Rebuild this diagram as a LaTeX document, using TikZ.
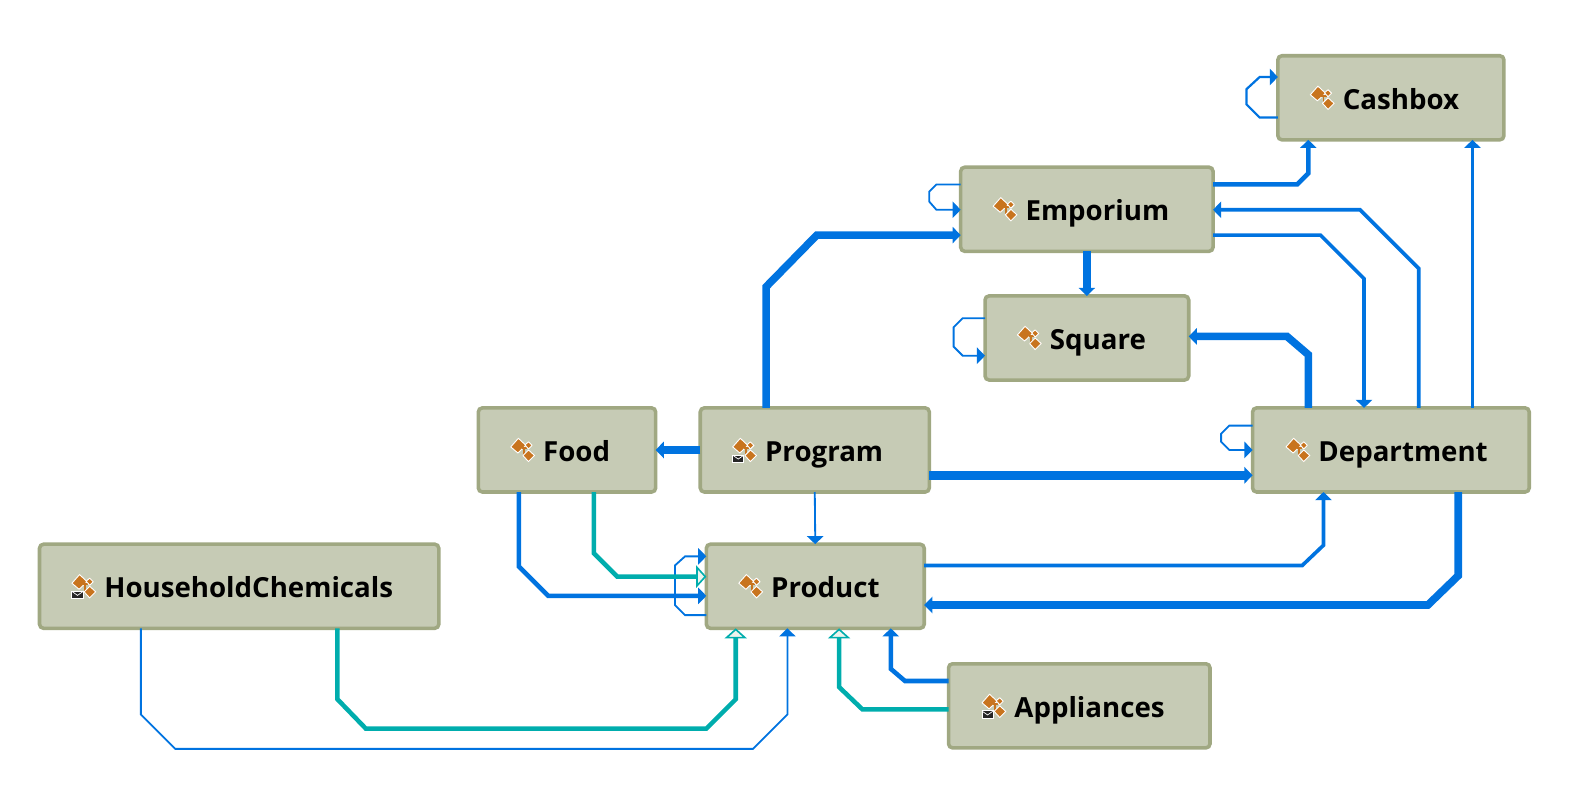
\documentclass[tikz,border=0pt]{standalone}
\usepackage{fontspec}
\setmainfont{Open Sans}
\usetikzlibrary{arrows.meta,calc}
\definecolor{boxfill}{HTML}{C6CBB5}
\definecolor{boxline}{HTML}{A0A882}
\definecolor{linkblue}{HTML}{0073E0}
\definecolor{linkteal}{HTML}{00ADAD}
\definecolor{iconorange}{HTML}{C8741E}
\definecolor{openfill}{HTML}{EEF4EE}
\tikzset{
  entitybox/.style={draw=boxline,fill=boxfill,line width=3.5pt,rounded corners=4pt,inner sep=0pt,outer sep=0pt,
    minimum height=83pt,text height=23pt,text depth=0pt,font=\fontsize{27.3}{30}\selectfont\bfseries,text=black},
  assoc/.style={draw=linkblue,line join=miter,-{Triangle[length=8pt,width=16pt]}},
  inherit/.style={draw=linkteal,line join=miter,-{Triangle[open,length=10pt,width=22pt,line width=1.6pt,fill=openfill]}},
  w1/.style={line width=1.8pt}, w3/.style={line width=3.6pt}, w4/.style={line width=4.5pt},
  w7/.style={line width=7.5pt}, w8/.style={line width=8.5pt},
  pics/classicon/.style={code={
    \draw[white,line width=0.9pt,fill=iconorange,line join=round] (-12,-3) -- (-4.5,-11.5) -- (3,-4.5) -- (-5,3) -- cycle;
    \draw[iconorange,line width=1.8pt] (-1,-2) -- (4,-2) (1,-3) -- (1,5) -- (4,5);
    \draw[white,line width=0.9pt,fill=iconorange,line join=round] (2,-5) -- (5.5,-8) -- (9,-4.5) -- (5.5,-1) -- cycle;
    \draw[white,line width=0.9pt,fill=iconorange,line join=round] (0,5.5) -- (5.5,0) -- (11.5,5.5) -- (5.5,11.5) -- cycle;
  }},
  pics/mailicon/.style={code={
    \draw[white,line width=0.9pt,fill=black!85] (-12,5) rectangle (-1,12);
    \draw[white,line width=0.7pt] (-11.5,5.5) -- (-6.5,9) -- (-1.5,5.5);
  }}
}
% name, centre x, centre y, width, distance from box centre to text start, label
\newcommand{\entity}[6]{%
  \node[entitybox,minimum width=#4pt] (#1) at (#2,#3) {\makebox[#4pt][l]{\hspace{\dimexpr0.5\dimexpr#4pt\relax+#5pt\relax}#6}};%
  \pic at ($(#1.center)+(#5-20,0)$) {classicon};%
}
\begin{document}
\begin{tikzpicture}[x=1pt,y=-1pt]
\useasboundingbox (0,0) rectangle (1568,783.5);
\entity{cash}{1372.5}{96.5}{223}{-47.5}{Cashbox}
\entity{emp}{1072.5}{206.5}{249}{-60.5}{Emporium}
\entity{sq}{1072.5}{333.5}{201}{-36.5}{Square}
\entity{food}{559.5}{444}{175}{-23.5}{Food}
\entity{prog}{804}{444}{226}{-49}{Program}
\entity{dept}{1372.5}{444}{273}{-71.5}{Department}
\entity{house}{236}{578.5}{394}{-133}{HouseholdChemicals}
\entity{prod}{804.5}{578.5}{215}{-43.5}{Product}
\entity{appl}{1065}{696.5}{258}{-64}{Appliances}
\pic at ($(prog.center)+(-69,0)$) {mailicon};
\pic at ($(house.center)+(-153,0)$) {mailicon};
\pic at ($(appl.center)+(-84,0)$) {mailicon};
% self loops
\draw[assoc,line width=2.2pt] (cash.west |- 0,116) -- (1243,116) -- (1230,103) -- (1230,88) -- (1243,76) -- (cash.west |- 0,76);
\draw[assoc,w1] (emp.west |- 0,182) -- (924,182) -- (917,189) -- (917,199) -- (924,207) -- (emp.west |- 0,207);
\draw[assoc,w1] (sq.west |- 0,314) -- (950,314) -- (941,323) -- (941,342) -- (950,351) -- (sq.west |- 0,351);
\draw[assoc,w1] (dept.west |- 0,420) -- (1213,420) -- (1205,428) -- (1205,436) -- (1213,444) -- (dept.west |- 0,444);
\draw[assoc,w1] (prod.west |- 0,607) -- (676,607) -- (666,597) -- (666,558) -- (676,549) -- (prod.west |- 0,549);
% associations
\draw[assoc,w4] (emp.east |- 0,182) -- (1280,182) -- (1291,171) -- (cash.south -| 1291,0);
\draw[assoc,w3] (dept.north -| 1453,0) -- (cash.south -| 1453,0);
\draw[assoc,w3] (dept.north -| 1400,0) -- (1400,265) -- (1342,207) -- (emp.east |- 0,207);
\draw[assoc,w3] (emp.east |- 0,232) -- (1303,232) -- (1346,275) -- (dept.north -| 1346,0);
\draw[assoc,w7] (prog.north -| 756,0) -- (756,283) -- (806,232) -- (emp.west |- 0,232);
\draw[assoc,w7] (emp.south) -- (sq.north);
\draw[assoc,w7] (dept.north -| 1291,0) -- (1291,350) -- (1270,332) -- (sq.east |- 0,332);
\draw[assoc,w7] (prog.west) -- (food.east);
\draw[assoc,w8] (prog.east |- 0,469) -- (dept.west |- 0,469);
\draw[assoc,w1] (prog.south) -- (prod.north);
\draw[assoc,w4] (food.south -| 512,0) -- (512,559) -- (541,588) -- (prod.west |- 0,588);
\draw[assoc,w3] (prod.east |- 0,558) -- (1285,558) -- (1306,538) -- (dept.south -| 1306,0);
\draw[assoc,w7] (dept.south -| 1439,0) -- (1439,568) -- (1409,597) -- (prod.east |- 0,597);
\draw[assoc,w1] (house.south -| 139,0) -- (139,705) -- (173,739) -- (743,739) -- (777,705) -- (prod.south -| 777,0);
\draw[assoc,w4] (appl.west |- 0,672) -- (893,672) -- (879,660) -- (prod.south -| 879,0);
% inheritance
\draw[inherit,w4] (food.south -| 586,0) -- (586,546) -- (609,569) -- (prod.west |- 0,569);
\draw[inherit,w4] (house.south -| 333,0) -- (333,690) -- (361,719) -- (697,719) -- (726,690) -- (prod.south -| 726,0);
\draw[inherit,w4] (appl.west |- 0,700) -- (851,700) -- (828,678) -- (prod.south -| 828,0);
\end{tikzpicture}
\end{document}
